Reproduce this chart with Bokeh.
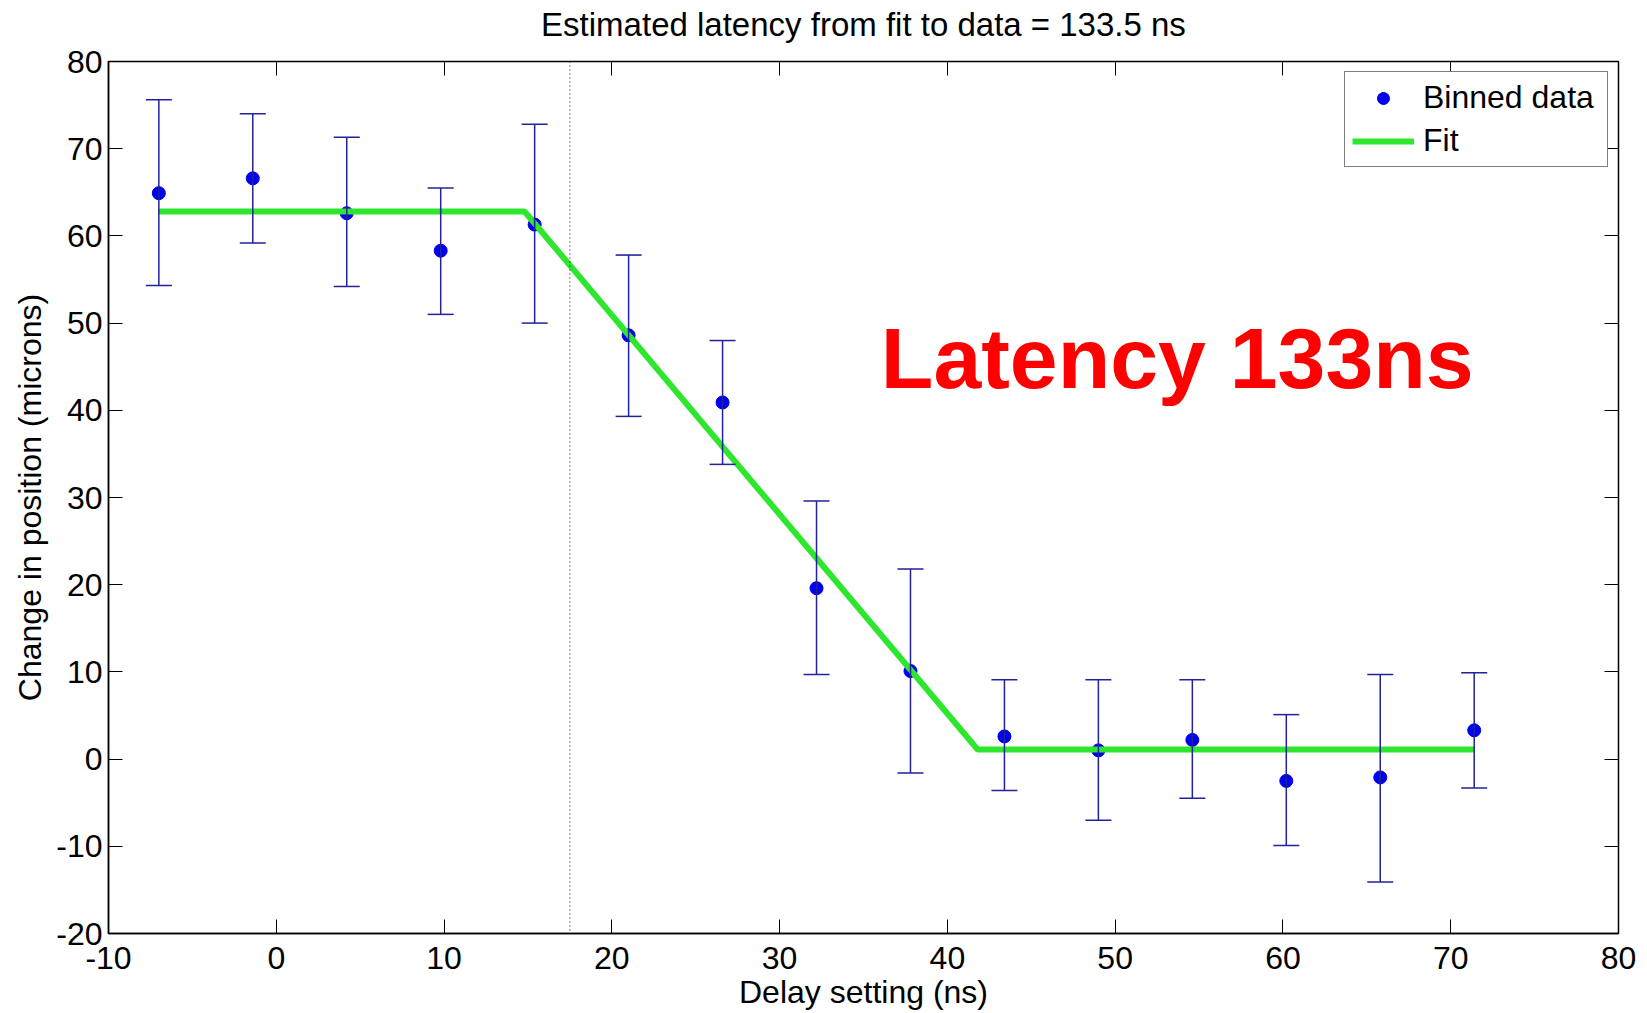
from bokeh.plotting import figure
from bokeh.models import (ColumnDataSource, Whisker, TeeHead, Span, Label,
                          LinearAxis, Legend, LegendItem, FixedTicker, Range1d,
                          CustomJSTickFormatter)
from bokeh.embed import file_html
from bokeh.resources import INLINE

# ---- data ----
delay_ns = [-7.0, -1.4, 4.2, 9.8, 15.4, 21.0, 26.6, 32.2, 37.8, 43.4, 49.0, 54.6, 60.2, 65.8, 71.4]
position_um = [64.9, 66.6, 62.6, 58.3, 61.3, 48.6, 40.9, 19.6, 10.1, 2.6, 1.0, 2.2, -2.5, -2.1, 3.3]
err_upper = [75.6, 74.0, 71.3, 65.5, 72.8, 57.8, 48.0, 29.6, 21.8, 9.1, 9.1, 9.1, 5.1, 9.7, 9.9]
err_lower = [54.3, 59.2, 54.2, 51.0, 50.0, 39.3, 33.8, 9.7, -1.6, -3.6, -7.0, -4.5, -9.9, -14.1, -3.3]
fit_x = [-7.0, 14.8, 41.8, 71.4]
fit_y = [62.8, 62.8, 1.1, 1.1]
cut_delay = 17.5
x_ticks = [-10, 0, 10, 20, 30, 40, 50, 60, 70, 80]
y_ticks = [-20, -10, 0, 10, 20, 30, 40, 50, 60, 70, 80]
title_text = "Estimated latency from fit to data = 133.5 ns"
x_label = "Delay setting (ns)"
y_label = "Change in position (microns)"
note_text = "Latency 133ns"
note_pos = (53.7, 46.0)

FONT = "'Liberation Sans', Arial, Helvetica, sans-serif"
FS = "32px"

p = figure(width=1647, height=1013, output_backend="svg", toolbar_location=None,
           x_range=Range1d(-10, 80), y_range=Range1d(-20, 80),
           min_border_left=108, min_border_right=29, min_border_top=61,
           min_border_bottom=80, background_fill_color="white",
           border_fill_color="white")
p.title = None

p.grid.visible = False
p.outline_line_color = "black"
p.outline_line_width = 1.5

plain = "return tick.toString();"
for ax in (p.xaxis[0], p.yaxis[0]):
    ax.major_label_text_font = FONT
    ax.major_label_text_font_size = FS
    ax.major_label_text_color = "black"
    ax.axis_label_text_font = FONT
    ax.axis_label_text_font_size = FS
    ax.axis_label_text_font_style = "normal"
    ax.axis_label_text_color = "black"
    ax.major_tick_in = 14
    ax.major_tick_out = 0
    ax.minor_tick_in = 0
    ax.minor_tick_out = 0
    ax.axis_line_color = "black"
    ax.axis_line_width = 1.5
    ax.major_tick_line_color = "black"
    ax.formatter = CustomJSTickFormatter(code=plain)

p.xaxis[0].ticker = FixedTicker(ticks=x_ticks)
p.yaxis[0].ticker = FixedTicker(ticks=y_ticks)
p.xaxis[0].axis_label = x_label
p.yaxis[0].axis_label = y_label
p.xaxis[0].major_label_standoff = 13
p.xaxis[0].axis_label_standoff = 2
p.yaxis[0].major_label_standoff = 6
p.yaxis[0].axis_label_standoff = 5

# top axis: inward ticks, carries the chart title as its label
top_axis = LinearAxis(ticker=FixedTicker(ticks=x_ticks),
                      formatter=CustomJSTickFormatter(code="return '';"),
                      major_label_text_font_size="1px",
                      major_label_standoff=0,
                      axis_label=title_text,
                      axis_label_text_font=FONT,
                      axis_label_text_font_size="33px",
                      axis_label_text_font_style="normal",
                      axis_label_text_color="black",
                      axis_label_standoff=19,
                      major_tick_in=14, major_tick_out=0,
                      minor_tick_in=0, minor_tick_out=0,
                      axis_line_color=None,
                      major_tick_line_color="black")
p.add_layout(top_axis, "above")

right_axis = LinearAxis(ticker=FixedTicker(ticks=y_ticks),
                        formatter=CustomJSTickFormatter(code="return '';"),
                        major_label_text_font_size="1px",
                        major_label_standoff=0, axis_label_standoff=0,
                        major_tick_in=14, major_tick_out=0,
                        minor_tick_in=0, minor_tick_out=0,
                        axis_line_color=None,
                        major_tick_line_color="black")
p.add_layout(right_axis, "right")

src = ColumnDataSource(dict(x=delay_ns, y=position_um, upper=err_upper, lower=err_lower))

bar_color = "#22229a"
whisker = Whisker(source=src, base="x", upper="upper", lower="lower",
                  line_color=bar_color, line_width=1.5, level="glyph",
                  upper_head=TeeHead(size=26, line_color=bar_color, line_width=1.5),
                  lower_head=TeeHead(size=26, line_color=bar_color, line_width=1.5))
p.add_layout(whisker)

pts = p.scatter("x", "y", source=src, size=13, color="#0000ee")

p.add_layout(Span(location=cut_delay, dimension="height", line_color="black",
                  line_width=1, line_dash="1 3"))

fit = p.line(fit_x, fit_y, line_color="#2ee62e", line_width=6)

p.add_layout(Label(x=note_pos[0], y=note_pos[1], text=note_text,
                   text_align="center", text_baseline="alphabetic",
                   text_font=FONT, text_font_style="bold",
                   text_font_size="86px", text_color="#ff0000"))

legend = Legend(items=[LegendItem(label="Binned data", renderers=[pts]),
                       LegendItem(label="Fit", renderers=[fit])],
                location="top_right", margin=10, padding=7, spacing=6,
                glyph_width=62, glyph_height=30, label_standoff=9,
                label_width=177,
                label_text_font=FONT, label_text_font_size=FS,
                label_text_color="black",
                border_line_color="black", border_line_width=1.5,
                background_fill_color="white", background_fill_alpha=1)
p.add_layout(legend)

open("out.html", "w").write(file_html(p, INLINE))
